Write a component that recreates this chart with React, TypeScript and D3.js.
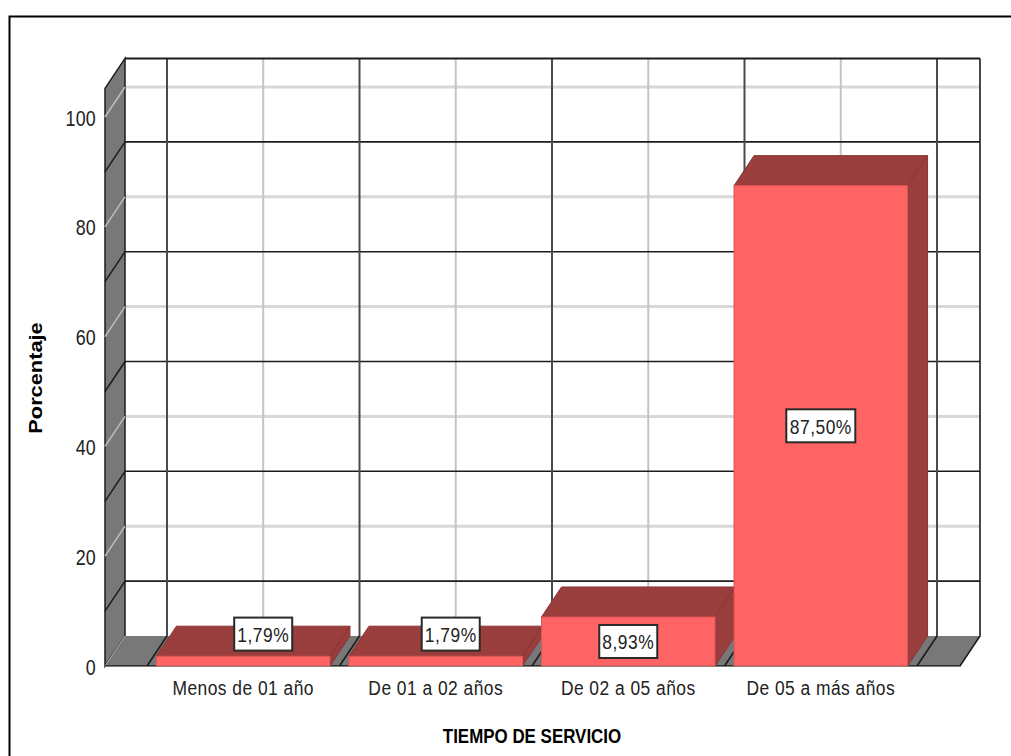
import React from "react";
import * as d3 from "d3";

const categories = ["Menos de 01 año", "De 01 a 02 años", "De 02 a 05 años", "De 05 a más años"];
const percentages = [1.79, 1.79, 8.93, 87.5];
const percentLabels = ["1,79%", "1,79%", "8,93%", "87,50%"];
const yTicks = [0, 20, 40, 60, 80, 100];
const darkGridValues = [10, 30, 50, 70, 90];
const lightGridValues = [20, 40, 60, 80, 100];

const W = 1011, H = 756;
const DX = 20, DY = -30;
const SANS = "'Liberation Sans', Arial, sans-serif";
const SQUEEZE = 0.83;

// scales for the front plane of the 3D box
const y = d3.scaleLinear().domain([0, 100]).range([666, 117]);
const x = d3.scaleBand<string>().domain(categories).range([147, 917]).paddingInner(0.0987).paddingOuter(0.049).align(0.5);
const frontLeft = 105, frontRight = 960, yMax = 105.2;
const bandStart = (i: number) => 147 + (i * (917 - 147)) / categories.length;

const poly = (pts: [number, number][]) => d3.line()(pts) + "Z";

// labels that don't fit on the front face are lifted onto the top face
const labelNudge: [number, number][] = [[20, -27], [15, -27], [0, 0], [0, 0]];

function Squeezed(props: { x: number; y: number; size: number; bold?: boolean; anchor?: string; fill?: string; spacing?: number; children: any }) {
  return (
    <text
      transform={`translate(${props.x},${props.y}) scale(${SQUEEZE},1)`}
      textAnchor={props.anchor ?? "middle"}
      fontFamily={SANS}
      fontWeight={props.bold ? "bold" : "normal"}
      fontSize={props.size}
      letterSpacing={props.spacing ?? 0}
      fill={props.fill ?? "#222"}
    >
      {props.children}
    </text>
  );
}

export default function App() {
  const y0 = y(0), yT = y(yMax);
  const BLACK = "#1c1c1c", GRAY = "#787878", RED = "#ff6464", DARK = "#993d3d";
  const verticalDark = d3.range(0, 5).map(bandStart);
  const verticalLight = categories.map((c) => x(c)! + x.bandwidth() / 2);
  return (
    <svg width={W} height={H} style={{ position: "absolute", left: 0, top: 0, background: "#fff" }}>
      {/* outer frame */}
      <path d={`M9.5,${H}V16.5H${W}`} fill="none" stroke="#000" strokeWidth={2} />

      {/* back wall */}
      <rect x={frontLeft + DX} y={yT + DY} width={frontRight - frontLeft} height={y0 - yT} fill="#fff" />
      {lightGridValues.map((v) => (
        <line key={v} x1={frontLeft + DX} x2={frontRight + DX} y1={y(v) + DY} y2={y(v) + DY} stroke="#d8d8d8" strokeWidth={3} />
      ))}
      {verticalLight.map((v) => (
        <line key={v} x1={v + DX} x2={v + DX} y1={yT + DY} y2={y0 + DY} stroke="#c4c4c4" strokeWidth={2} />
      ))}
      {darkGridValues.map((v) => (
        <line key={v} x1={frontLeft + DX} x2={frontRight + DX} y1={y(v) + DY} y2={y(v) + DY} stroke={BLACK} strokeWidth={1.6} />
      ))}
      {verticalDark.map((v) => (
        <line key={v} x1={v + DX} x2={v + DX} y1={yT + DY} y2={y0 + DY} stroke="#4a4a4a" strokeWidth={2} />
      ))}

      {/* left wall */}
      <path d={poly([[frontLeft, yT], [frontLeft + DX, yT + DY], [frontLeft + DX, y0 + DY], [frontLeft, y0]])} fill={GRAY} stroke={BLACK} strokeWidth={1.5} />
      {lightGridValues.map((v) => (
        <line key={v} x1={frontLeft} x2={frontLeft + DX} y1={y(v)} y2={y(v) + DY} stroke="#bdbdbd" strokeWidth={1.5} />
      ))}
      {darkGridValues.map((v) => (
        <line key={v} x1={frontLeft} x2={frontLeft + DX} y1={y(v)} y2={y(v) + DY} stroke={BLACK} strokeWidth={1.5} />
      ))}

      {/* floor */}
      <path d={poly([[frontLeft, y0], [frontLeft + DX, y0 + DY], [frontRight + DX, y0 + DY], [frontRight, y0]])} fill={GRAY} />
      <line x1={frontLeft} y1={y0} x2={frontLeft + DX} y2={y0 + DY} stroke="#b0b0b0" strokeWidth={1} />
      {verticalDark.map((v) => (
        <line key={v} x1={v} x2={v + DX} y1={y0} y2={y0 + DY} stroke={BLACK} strokeWidth={1.6} />
      ))}
      <path d={`M${frontRight + DX},${yT + DY}V${y0 + DY}L${frontRight},${y0}H${frontLeft}`} fill="none" stroke={BLACK} strokeWidth={1.6} />
      <line x1={frontLeft + DX} x2={frontRight + DX} y1={yT + DY} y2={yT + DY} stroke={BLACK} strokeWidth={2} />

      {/* bars */}
      {categories.map((c, i) => {
        const x0 = x(c)!, w = x.bandwidth(), top = y(percentages[i]);
        return (
          <g key={c}>
            <path d={poly([[x0 + w, top], [x0 + w + DX, top + DY], [x0 + w + DX, y0 + DY], [x0 + w, y0]])} fill={DARK} stroke="#8a3434" strokeWidth={1} />
            <path d={poly([[x0, top], [x0 + DX, top + DY], [x0 + w + DX, top + DY], [x0 + w, top]])} fill={DARK} stroke="#8a3434" strokeWidth={1} />
            <rect x={x0} y={top} width={w} height={y0 - top} fill={RED} stroke="#d95555" strokeWidth={1} />
          </g>
        );
      })}
      <line x1={frontLeft} x2={frontRight} y1={y0 + 0.5} y2={y0 + 0.5} stroke="#999" strokeWidth={1} opacity={0.6} />

      {/* value labels */}
      {categories.map((c, i) => {
        const [nx, ny] = labelNudge[i];
        const px = x(c)! + x.bandwidth() / 2 + nx;
        const py = (y(percentages[i]) + y0) / 2 + ny;
        const boxW = percentLabels[i].length > 5 ? 69 : 58;
        return (
          <g key={c + "l"}>
            <rect x={px - boxW / 2} y={py - 16.5} width={boxW} height={33} fill="#fff" stroke="#2a2a2a" strokeWidth={2} />
            <Squeezed x={px} y={py + 8} size={21} spacing={0.6}>{percentLabels[i]}</Squeezed>
          </g>
        );
      })}

      {/* y axis labels */}
      {yTicks.map((t) => (
        <Squeezed key={t} x={96} y={y(t) + 8.5} size={21.5} anchor="end" spacing={0.3}>{t}</Squeezed>
      ))}
      {/* x axis labels */}
      {categories.map((c) => (
        <Squeezed key={c} x={x(c)! + x.bandwidth() / 2} y={695} size={21} spacing={0.56}>{c}</Squeezed>
      ))}

      <Squeezed x={532} y={743} size={20.4} bold fill="#000">TIEMPO DE SERVICIO</Squeezed>
      <text transform={`translate(42,378) scale(${SQUEEZE},1) rotate(-90)`} textAnchor="middle" fontFamily={SANS} fontWeight="bold" fontSize={21.8} fill="#000">Porcentaje</text>
    </svg>
  );
}
